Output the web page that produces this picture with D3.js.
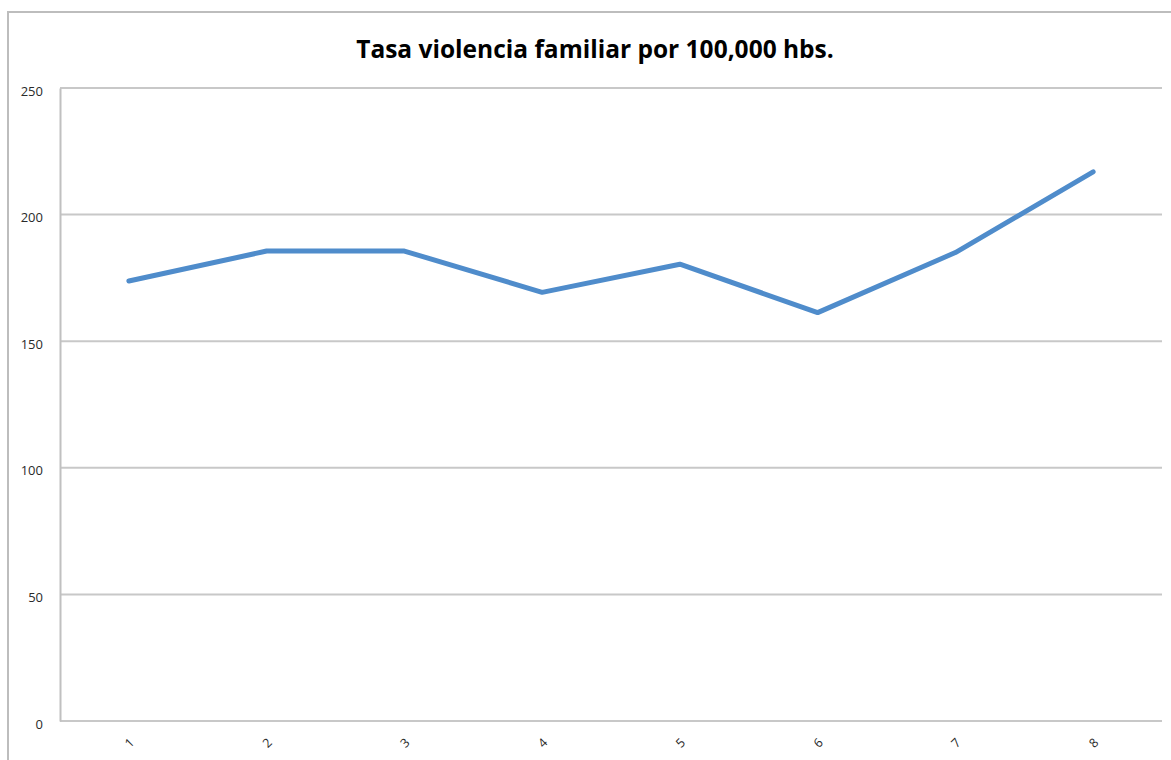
<!DOCTYPE html>
<html>
<head>
<meta charset="utf-8">
<script src="https://cdn.jsdelivr.net/npm/d3@7"></script>
<style>
  body { margin: 0; background: #fff; }
  svg { display: block; }
</style>
</head>
<body>
<svg id="chart"></svg>
<script>
// chart data
var categories = ["1", "2", "3", "4", "5", "6", "7", "8"];
var values = [173.8, 185.6, 185.6, 169.3, 180.4, 161.3, 185.0, 216.9];
var yTicks = [0, 50, 100, 150, 200, 250];
var title = "Tasa violencia familiar por 100,000 hbs.";

var width = 1171, height = 760;
var margin = {top: 88, right: 9, bottom: 39, left: 60};

var svg = d3.select("#chart")
    .attr("width", width)
    .attr("height", height);

// outer chart frame (right/bottom edges run off the page)
svg.append("rect")
    .attr("x", 8).attr("y", 12)
    .attr("width", width + 20).attr("height", height + 20)
    .attr("fill", "none")
    .attr("stroke", "#bdbdbd")
    .attr("stroke-width", 2);

svg.append("text")
    .attr("x", 595)
    .attr("y", 58)
    .attr("text-anchor", "middle")
    .style("font-family", "'Open Sans', sans-serif")
    .style("font-weight", "bold")
    .style("font-size", "24.5px")
    .style("fill", "#000")
    .text(title);

var innerW = width - margin.left - margin.right,
    innerH = height - margin.top - margin.bottom;

var g = svg.append("g")
    .attr("transform", "translate(" + margin.left + "," + margin.top + ")");

var xScale = d3.scalePoint()
    .domain(categories)
    .range([0, innerW])
    .padding(0.5);

var yScale = d3.scaleLinear()
    .domain([0, 250])
    .range([innerH, 0]);

// gridlines
g.selectAll(".grid")
    .data(yTicks)
    .enter()
    .append("line")
    .attr("x1", 0)
    .attr("x2", innerW)
    .attr("y1", function(d) { return yScale(d); })
    .attr("y2", function(d) { return yScale(d); })
    .attr("stroke", "#c8c8c8")
    .attr("stroke-width", 2);

// y axis
var yAxis = g.append("g")
    .call(d3.axisLeft(yScale).tickValues(yTicks).tickSize(0).tickPadding(17));
yAxis.select(".domain").attr("stroke", "#c0c0c0").attr("stroke-width", 2);
yAxis.selectAll("text")
    .attr("dy", "0.55em")
    .style("font-family", "'Open Sans', sans-serif")
    .style("font-size", "13px")
    .style("fill", "#2a2a2a");

// x axis
var xAxis = g.append("g")
    .attr("transform", "translate(0," + innerH + ")")
    .call(d3.axisBottom(xScale).tickSize(0).tickPadding(0));
xAxis.select(".domain").remove();
xAxis.selectAll("text")
    .style("font-family", "'Open Sans', sans-serif")
    .style("font-size", "12.5px")
    .style("fill", "#2a2a2a")
    .attr("text-anchor", "middle")
    .attr("dy", "0.35em")
    .attr("y", 0)
    .attr("transform", "translate(0,22) rotate(-45)");

// the line
var line = d3.line()
    .x(function(d, i) { return xScale(categories[i]); })
    .y(function(d) { return yScale(d); });

g.append("path")
    .datum(values)
    .attr("d", line)
    .attr("fill", "none")
    .attr("stroke", "#4f8ccb")
    .attr("stroke-width", 5)
    .attr("stroke-linejoin", "round")
    .attr("stroke-linecap", "round");
</script>
</body>
</html>
